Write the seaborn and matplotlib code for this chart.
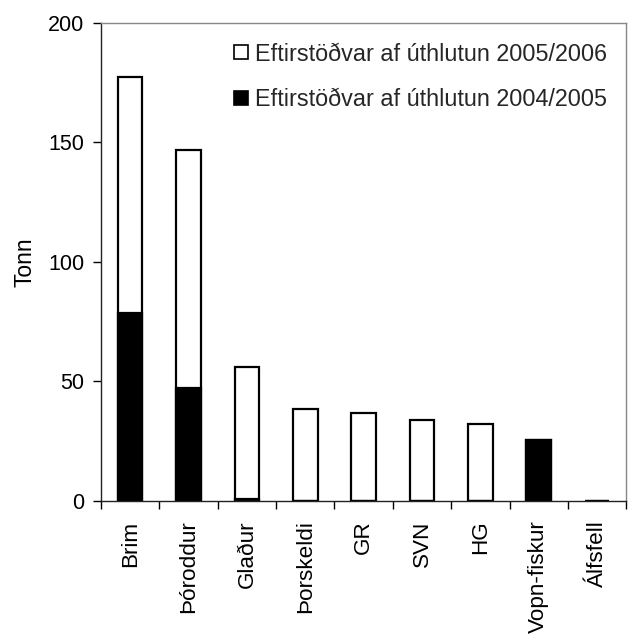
import matplotlib
matplotlib.use("Agg")
import matplotlib.pyplot as plt
import seaborn as sns
import pandas as pd
import numpy as np
from matplotlib.lines import Line2D

categories = ["Brim", "Þóroddur", "Glaður", "Þorskeldi", "GR", "SVN", "HG", "Vopn-fiskur", "Álfsfell"]
val_2004_2005 = [78.8, 47.2, 0.8, 0, 0, 0, 0, 25.5, 0]
val_2005_2006 = [98.7, 99.5, 55.4, 38.4, 36.9, 33.7, 32.3, 0, 0]
label_2005_2006 = "Eftirstöðvar af úthlutun 2005/2006"
label_2004_2005 = "Eftirstöðvar af úthlutun 2004/2005"
y_ticks = [0, 50, 100, 150, 200]

sns.set_theme(style="white")
plt.rcParams["font.family"] = ["Liberation Sans", "DejaVu Sans"]

df = pd.DataFrame({
    "cat": categories,
    "low": val_2004_2005,
    "total": np.array(val_2004_2005) + np.array(val_2005_2006),
})

fig = plt.figure(figsize=(6.29, 6.38), dpi=100)
ax = fig.add_axes([0.1606, 0.2147, 0.8350, 0.7497])

sns.barplot(data=df, x="cat", y="total", order=categories, color="white",
            edgecolor="black", linewidth=1.6, width=0.42, ax=ax, saturation=1)
sns.barplot(data=df, x="cat", y="low", order=categories, color="black",
            edgecolor="black", linewidth=1.6, width=0.42, ax=ax, saturation=1)

ax.set_xlim(-0.5, len(categories) - 0.5)
ax.set_ylim(0, 200)
ax.set_yticks(y_ticks)
ax.set_yticklabels([str(v) for v in y_ticks], fontsize=15.5, color="black")
ax.set_xticks(range(len(categories)))
ax.set_xticklabels(categories, rotation=90, fontsize=16.2, color="black")
ax.set_xticks(np.arange(-0.5, len(categories)), minor=True)
ax.tick_params(axis="x", which="major", length=0, pad=14)
ax.tick_params(axis="x", which="minor", length=6, width=1, color="black", direction="out", bottom=True)
ax.tick_params(axis="y", which="major", length=6, width=1, color="black", direction="out", left=True, pad=6)
ax.set_xlabel("")
ax.set_ylabel("Tonn", fontsize=16.4, labelpad=8, color="black")

for side in ["left", "bottom"]:
    ax.spines[side].set_color("#222222")
    ax.spines[side].set_linewidth(1.0)
for side in ["top", "right"]:
    ax.spines[side].set_color("#888888")
    ax.spines[side].set_linewidth(1.0)
    ax.spines[side].set_visible(True)

handles = [
    Line2D([0], [0], marker="s", linestyle="none", markersize=9.5,
           markerfacecolor="white", markeredgecolor="black", markeredgewidth=1.2),
    Line2D([0], [0], marker="s", linestyle="none", markersize=9.5,
           markerfacecolor="black", markeredgecolor="black", markeredgewidth=1.2),
]
ax.legend(handles, [label_2005_2006, label_2004_2005], loc="upper right",
          bbox_to_anchor=(0.982, 0.978), frameon=False, fontsize=16.8,
          labelspacing=0.95, handletextpad=0.25, handlelength=0.7, borderaxespad=0)

fig.savefig("out.png", dpi=100)
